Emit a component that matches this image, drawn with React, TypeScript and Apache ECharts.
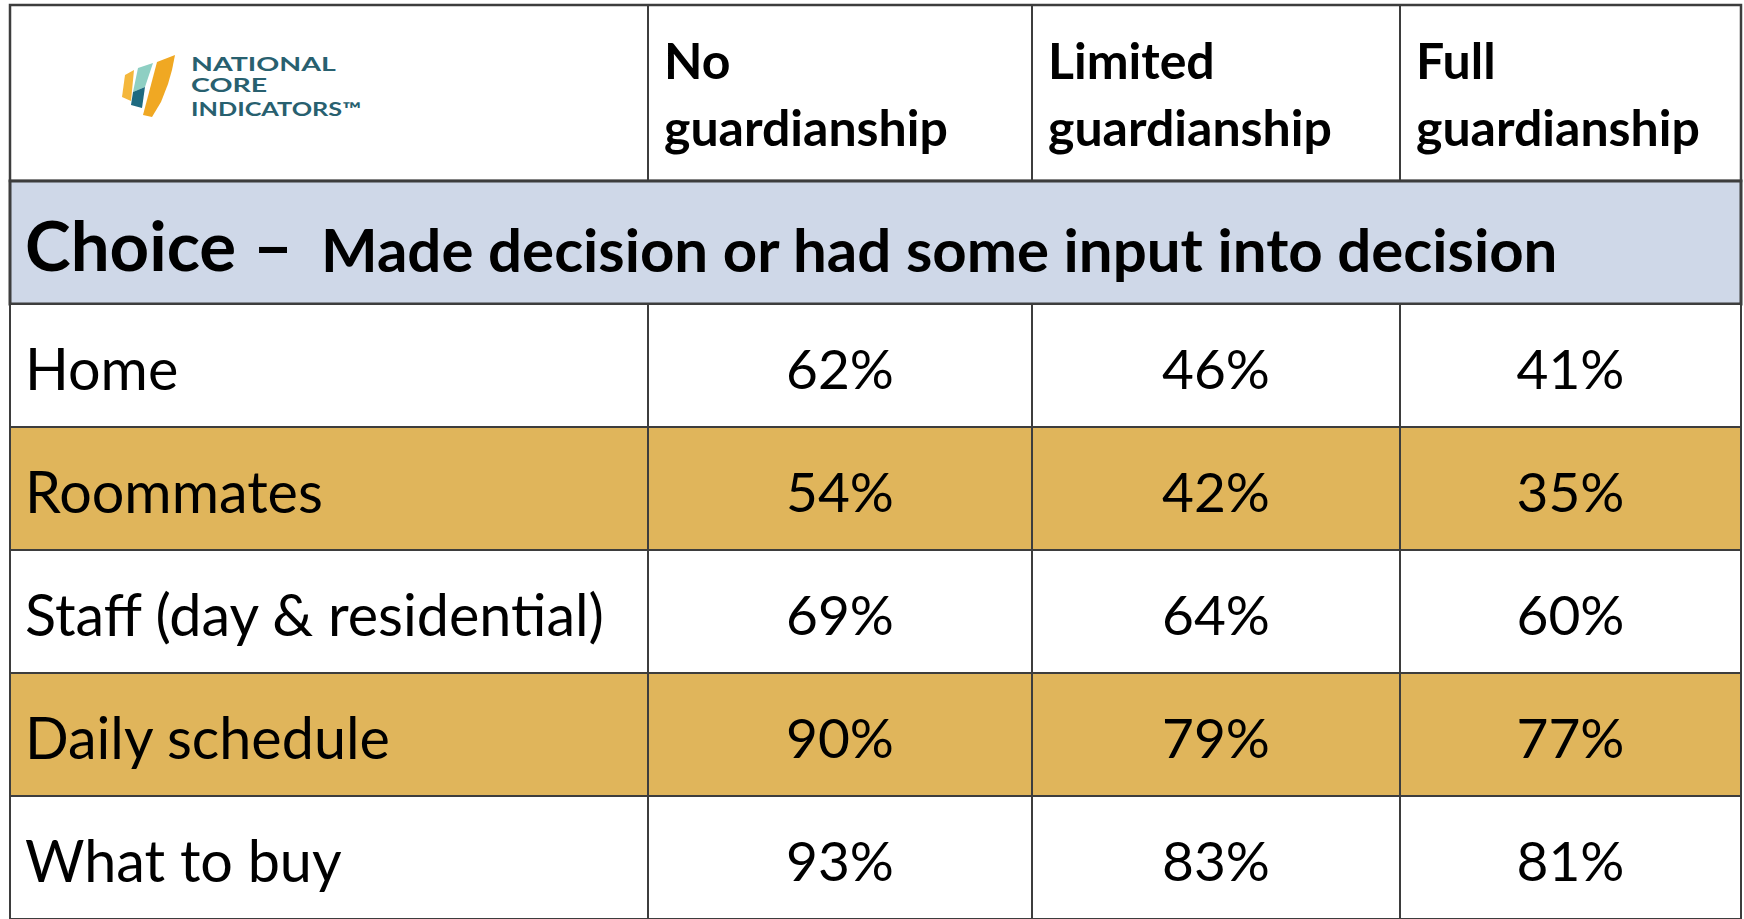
import React, { useEffect, useRef } from 'react';
import * as echarts from 'echarts';

// ---- data ----
const ROW_LABELS = ['Home', 'Roommates', 'Staff (day & residential)', 'Daily schedule', 'What to buy'];
const COLUMN_TITLES = ['No guardianship', 'Limited guardianship', 'Full guardianship'];
const NO_GUARDIANSHIP = [62, 54, 69, 90, 93];
const LIMITED_GUARDIANSHIP = [46, 42, 64, 79, 83];
const FULL_GUARDIANSHIP = [41, 35, 60, 77, 81];
const SECTION_TITLE = 'Choice –';
const SECTION_SUBTITLE = 'Made decision or had some input into decision';
const LOGO_LINES = ['NATIONAL', 'CORE', 'INDICATORS™'];

// ---- layout ----
const TABLE_LEFT = 10;
const COL_WIDTHS = [638, 384, 368, 341];
const TABLE_WIDTH = COL_WIDTHS.reduce((a, b) => a + b, 0);
const EDGES = COL_WIDTHS.reduce((acc: number[], w) => { acc.push(acc[acc.length - 1] + w); return acc; }, [0]);
const HEADER_TOP = 5;
const HEADER_BOTTOM = 181;
const BAND_BOTTOM = 304;
const ROW_H = 124;

const BORDER = '#3d3d3d';
const GOLD = '#E0B55B';
const BAND = '#CFD8E8';
const TEAL = '#28606F';
const FONT = 'Lato';

export default function App() {
  const ref = useRef<HTMLDivElement>(null);
  useEffect(() => {
    document.body.style.margin = '0';
    const chart = echarts.init(ref.current!, null, { renderer: 'svg' });

    const seriesData: number[][] = [];
    ROW_LABELS.forEach((_, r) => {
      seriesData.push([0, r, 0]);
      seriesData.push([1, r, NO_GUARDIANSHIP[r]]);
      seriesData.push([2, r, LIMITED_GUARDIANSHIP[r]]);
      seriesData.push([3, r, FULL_GUARDIANSHIP[r]]);
    });

    const graphics: any[] = [];
    // header box
    graphics.push({
      type: 'rect', shape: { x: TABLE_LEFT, y: HEADER_TOP, width: TABLE_WIDTH, height: HEADER_BOTTOM - HEADER_TOP },
      style: { fill: '#ffffff', stroke: BORDER, lineWidth: 2.5 }, z: 1,
    });
    for (let i = 1; i < EDGES.length - 1; i++) {
      graphics.push({
        type: 'line', shape: { x1: TABLE_LEFT + EDGES[i], y1: HEADER_TOP, x2: TABLE_LEFT + EDGES[i], y2: HEADER_BOTTOM },
        style: { stroke: BORDER, lineWidth: 2 }, z: 2,
      });
    }
    COLUMN_TITLES.forEach((t, i) => {
      const sp = t.indexOf(' ');
      graphics.push({
        type: 'text', x: TABLE_LEFT + EDGES[i + 1] + 16, y: 93, z: 3,
        style: {
          text: t.slice(0, sp) + '\n' + t.slice(sp + 1), fill: '#000', font: `bold 50px ${FONT}`,
          lineHeight: 67, align: 'left', textAlign: 'left', verticalAlign: 'middle', textVerticalAlign: 'middle',
        },
      });
    });
    // band
    graphics.push({
      type: 'rect', shape: { x: TABLE_LEFT, y: HEADER_BOTTOM, width: TABLE_WIDTH, height: BAND_BOTTOM - HEADER_BOTTOM },
      style: { fill: BAND, stroke: BORDER, lineWidth: 3 }, z: 1,
    });
    graphics.push({
      type: 'text', x: 25, y: 244, z: 3,
      style: { text: SECTION_TITLE, fill: '#000', font: `bold 69px ${FONT}`, align: 'left', textAlign: 'left', verticalAlign: 'middle', textVerticalAlign: 'middle' },
    });
    graphics.push({
      type: 'text', x: 321, y: 249, z: 3,
      style: { text: SECTION_SUBTITLE, fill: '#000', font: `bold 60px ${FONT}`, align: 'left', textAlign: 'left', verticalAlign: 'middle', textVerticalAlign: 'middle' },
    });
    // logo mark
    const poly = (pts: number[][], fill: string) => graphics.push({ type: 'polygon', shape: { points: pts }, style: { fill }, z: 3 });
    poly([[125, 75], [134, 70], [131, 101], [122, 97]], '#F4B73C');
    poly([[138, 68], [153, 63], [145, 87], [133, 92]], '#8ECFC3');
    poly([[133, 92], [145, 87], [142, 108], [131, 105]], '#1E6A80');
    poly([[157, 62], [175, 55], [172, 70], [168, 84], [161, 102], [152, 117], [143, 115]], '#F0A823');
    const logoY = [63.5, 85, 109];
    const logoScale = [1.5, 1.5, 1.33];
    LOGO_LINES.forEach((t, i) => {
      graphics.push({
        type: 'text', x: 191, y: logoY[i], scaleX: logoScale[i], originX: 0, originY: 0, z: 3,
        style: { text: t, fill: TEAL, font: `bold 19px ${FONT}`, align: 'left', textAlign: 'left', verticalAlign: 'middle', textVerticalAlign: 'middle' },
      });
    });

    chart.setOption({
      animation: false,
      grid: { left: TABLE_LEFT, top: BAND_BOTTOM, width: TABLE_WIDTH, height: ROW_H * ROW_LABELS.length },
      xAxis: { type: 'value', min: 0, max: TABLE_WIDTH, show: false },
      yAxis: { type: 'category', data: ROW_LABELS, inverse: true, show: false },
      graphic: { elements: graphics },
      series: [{
        type: 'custom',
        clip: false,
        data: seriesData,
        renderItem: (params: any, api: any) => {
          const col = api.value(0);
          const row = api.value(1);
          const v = api.value(2);
          const l = api.coord([EDGES[col], row]);
          const r = api.coord([EDGES[col + 1], row]);
          const h = api.size([0, 1])[1];
          const text = col === 0 ? ROW_LABELS[row] : `${v}%`;
          return {
            type: 'group',
            children: [
              {
                type: 'rect', shape: { x: l[0], y: l[1] - h / 2, width: r[0] - l[0], height: h },
                style: { fill: row % 2 === 1 ? GOLD : '#ffffff', stroke: BORDER, lineWidth: 2 },
              },
              {
                type: 'text', x: col === 0 ? l[0] + 15 : (l[0] + r[0]) / 2, y: l[1] + 2,
                style: {
                  text, fill: '#000', font: `${col === 0 ? 57.5 : 55}px ${FONT}`,
                  align: col === 0 ? 'left' : 'center', textAlign: col === 0 ? 'left' : 'center',
                  verticalAlign: 'middle', textVerticalAlign: 'middle',
                },
              },
            ],
          };
        },
      }],
    });
    return () => chart.dispose();
  }, []);
  return <div ref={ref} style={{ width: 1744, height: 919 }} />;
}
